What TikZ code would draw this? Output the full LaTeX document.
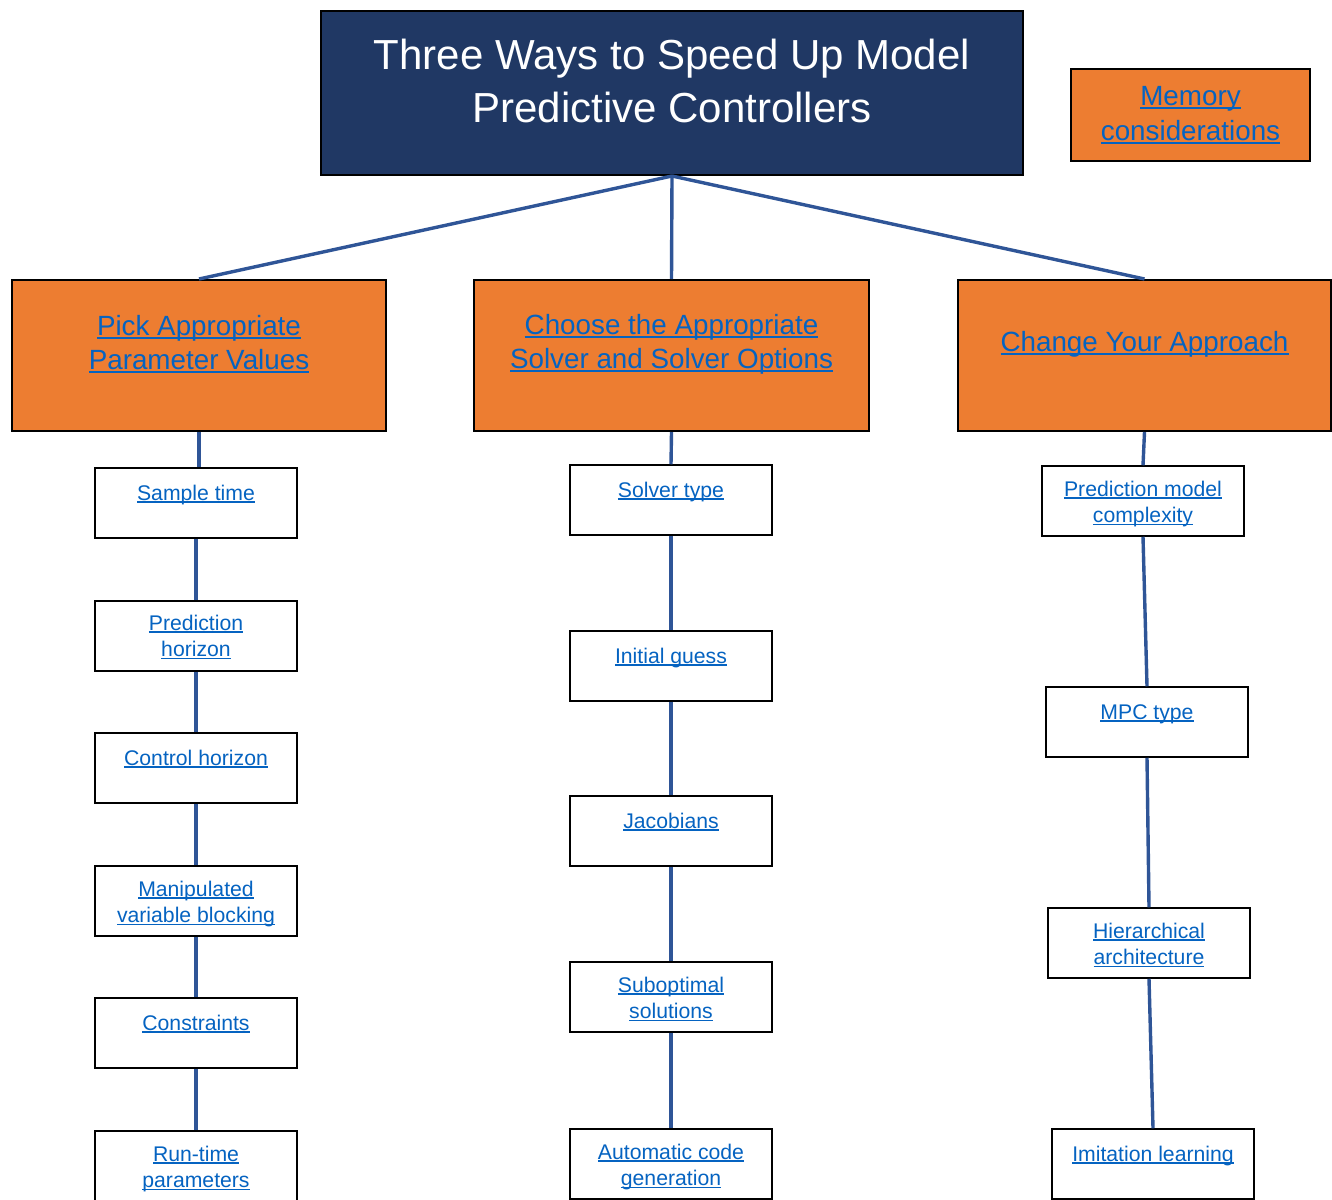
\documentclass[tikz,border=0pt]{standalone}
\usepackage{fontspec}
\setmainfont{Liberation Sans}
\definecolor{navy}{RGB}{32,56,100}
\definecolor{orng}{RGB}{237,125,49}
\definecolor{linkblue}{RGB}{5,99,193}
\definecolor{lineblue}{RGB}{47,85,151}
\newcommand\lnk[1]{\leavevmode\setbox0\hbox{#1}\rlap{\rule[-0.12em]{\wd0}{0.07em}}\box0}
\begin{document}
\begin{tikzpicture}
[
 x=0.5pt, y=-0.5pt,
 TITLEBOX/.style={rectangle, draw=black, fill=navy, line width=1pt, inner sep=0pt, text=white,
   font=\fontsize{21}{26.5}\selectfont,
   execute at begin node={\begin{minipage}[c][82pt][c]{351pt}\centering},
   execute at end node={\endgraf\vspace*{12.5pt}\end{minipage}}},
 ORANGEBOX/.style={rectangle, draw=black, fill=orng, line width=1pt, inner sep=0pt, text=linkblue,
   font=\fontsize{13.9}{17}\selectfont,
   execute at begin node={\begin{minipage}[c][75.5pt][c]{#1}\centering},
   execute at end node={\endgraf\vspace*{11pt}\end{minipage}}},
 MEMBOX/.style={rectangle, draw=black, fill=orng, line width=1pt, minimum width=119.5pt, minimum height=46pt,
   align=center, text=linkblue, font=\fontsize{13.9}{17.5}\selectfont},
 LEAFBOX/.style={rectangle, draw=black, fill=white, line width=0.75pt, inner sep=0pt, text=linkblue,
   font=\fontsize{10.6}{13.4}\selectfont,
   execute at begin node={\begin{minipage}[c][35pt][t]{101pt}\centering\rule{0pt}{#1}},
   execute at end node={\endgraf\end{minipage}}},
 LEAFBOX/.default=16pt,
 LINE/.style={draw=lineblue, line width=1.7pt},
 ]
%
\useasboundingbox (0,0) rectangle (1332,1199);
%
\node [TITLEBOX]  (TITLE)  at ( 672, 93)  {Three Ways to Speed Up Model\\Predictive Controllers};
\node [MEMBOX]    (MEM)    at (1190.5, 115)  {\lnk{Memory}\\\lnk{considerations}};
%
\node [ORANGEBOX=187pt]    (PAR)  at ( 199, 355.5)  {\lnk{Pick Appropriate}\\\lnk{Parameter Values}};
\node [ORANGEBOX=197.5pt]  (SOL)  at ( 671.5, 355.5)  {\lnk{Choose the Appropriate}\\\lnk{Solver and Solver Options}};
\node [ORANGEBOX=186.5pt]  (APP)  at (1144.5, 355.5)  {\lnk{Change Your Approach}};
%
\node [LEAFBOX]       (P1)  at ( 196, 503)  {\lnk{Sample time}};
\node [LEAFBOX=14.5pt]  (P2)  at ( 196, 636)  {\lnk{Prediction}\\\lnk{horizon}};
\node [LEAFBOX]       (P3)  at ( 196, 768)  {\lnk{Control horizon}};
\node [LEAFBOX=15pt]  (P4)  at ( 196, 901)  {\lnk{Manipulated}\\\lnk{variable blocking}};
\node [LEAFBOX]       (P5)  at ( 196, 1033)  {\lnk{Constraints}};
\node [LEAFBOX=15pt]  (P6)  at ( 196, 1166)  {\lnk{Run-time}\\\lnk{parameters}};
%
\node [LEAFBOX]       (S1)  at ( 671, 500)  {\lnk{Solver type}};
\node [LEAFBOX]       (S2)  at ( 671, 666)  {\lnk{Initial guess}};
\node [LEAFBOX]       (S3)  at ( 671, 831)  {\lnk{Jacobians}};
\node [LEAFBOX=15pt]  (S4)  at ( 671, 997)  {\lnk{Suboptimal}\\\lnk{solutions}};
\node [LEAFBOX=15pt]  (S5)  at ( 671, 1164)  {\lnk{Automatic code}\\\lnk{generation}};
%
\node [LEAFBOX=15pt]  (A1)  at (1143, 501)  {\lnk{Prediction model}\\\lnk{complexity}};
\node [LEAFBOX]       (A2)  at (1147, 722)  {\lnk{MPC type}};
\node [LEAFBOX=15pt]  (A3)  at (1149, 943)  {\lnk{Hierarchical}\\\lnk{architecture}};
\node [LEAFBOX]       (A4)  at (1153, 1164)  {\lnk{Imitation learning}};
%
\draw [LINE]  (TITLE.south)  -- (PAR.north) ;
\draw [LINE]  (TITLE.south)  -- (SOL.north) ;
\draw [LINE]  (TITLE.south)  -- (APP.north) ;
%
\draw [LINE]  (PAR.south)  -- (PAR.south |- P1.north) ;
\draw [LINE]  (P1.south)   -- (P2.north) ;
\draw [LINE]  (P2.south)   -- (P3.north) ;
\draw [LINE]  (P3.south)   -- (P4.north) ;
\draw [LINE]  (P4.south)   -- (P5.north) ;
\draw [LINE]  (P5.south)   -- (P6.north) ;
%
\draw [LINE]  (SOL.south)  -- (S1.north) ;
\draw [LINE]  (S1.south)   -- (S2.north) ;
\draw [LINE]  (S2.south)   -- (S3.north) ;
\draw [LINE]  (S3.south)   -- (S4.north) ;
\draw [LINE]  (S4.south)   -- (S5.north) ;
%
\draw [LINE]  (APP.south)  -- (A1.north) ;
\draw [LINE]  (A1.south)   -- (A2.north) ;
\draw [LINE]  (A2.south)   -- (A3.north) ;
\draw [LINE]  (A3.south)   -- (A4.north) ;
%
\end{tikzpicture}
\end{document}
